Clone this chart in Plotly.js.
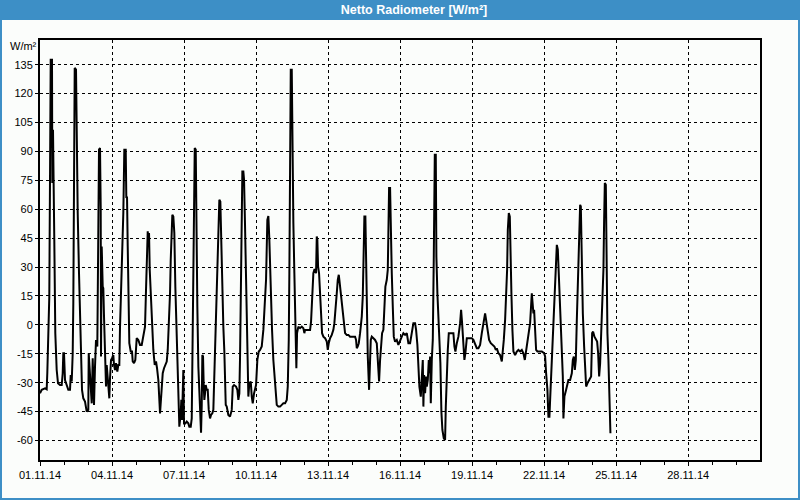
<!DOCTYPE html>
<html><head><meta charset="utf-8">
<script src="https://cdn.plot.ly/plotly-3.0.1.min.js"></script>
<style>html,body{margin:0;padding:0;background:#fbfdfb;}#chart{width:800px;height:500px;}</style>
</head><body><div id="chart"></div>
<script>
const chartTitle = 'Netto Radiometer [W/m²]';
const unitLabel = 'W/m²';
const startDate = '2014-11-01';
const endDate = '2014-11-30 23:50';
const yTickValues = [-60, -45, -30, -15, 0, 15, 30, 45, 60, 75, 90, 105, 120, 135];

// hours since 01.11.14 00:00
const hours = [
0,1.7,5,6.7,7.3,8.3,9.3,10,10.7,12,12.3,13,13.3,14.3,15.3,16.7,18,20,21.7,22.7,23.3,24,25,26.7,28.3,30,30.7,31.7,32.7,33.3,34,34.7,36,36.7,37.7,39,40,41,42,43.3,45,46.7,48.3,48.7,50,51,51.7,52.7,53.3,54,55,56,57.3,58,59,60,60.7,61,61.7,62.7,63.3,64,65,66,66.7,67.3,68.3,69.3,70,71,72,73.3,74,75,76,77.3,78.3,79.3,80,80.7,81.7,82.7,83.3,84.3,85.7,86.3,87,87.7,88.7,89.3,90.7,92,92.7,94,95.3,96.7,98.3,100,101.7,103.3,105,106,107,107.7,108.3,109,109.7,110.7,112,113.3,114.7,116,117,118.3,120,121,122,122.7,124,125,126.7,127.7,128.7,130,130.7,131.7,132.3,133.3,134.3,135.3,136.7,137.7,138.7,139.3,140.7,141.3,142,142.7,143.3,144,145.3,146.7,148.3,149.3,150.7,151.7,152.3,153.3,154,154.7,155.7,156.3,157.3,158.3,159.3,160.3,161,161.7,162.3,163,163.7,164.3,165,165.7,166.7,167.7,168.7,170,171,172.3,173.3,174.3,175.3,176.7,177.7,178.3,179.3,180.3,181,182,183.3,184.3,185.7,186.7,188.3,190,
191.7,192.7,194,196,197.3,198.3,199.3,200,200.7,201.3,202.3,203.3,204,205,206,207,207.7,208.3,209.3,210.7,211.7,212.7,214,215,216,217.3,218.7,220,221.7,223.3,224.3,226,227.3,228.3,229.3,230.7,232,233.3,235,236.7,238.3,240,241.7,243.3,245,246.7,247.7,248.7,249.3,250,250.7,251.7,252.3,253.3,254.3,255.3,256.3,257,258.3,260,261.7,263.3,264.3,265,266.7,268.3,270,271,272.3,273.3,274.3,275,276,276.7,277.3,278,279,280,281,282,283.3,285,286.7,287.7,288.7,290,291.7,293.3,294.3,295.3,296.7,297.7,298.7,299.3,300.7,302,303.3,305,306.7,308.3,310,313.3,315,316,316.7,317.7,318.7,320,321.7,322.7,323.3,324.3,325.3,326,326.7,327.7,329,330,330.7,331.7,333.3,335,336.7,337.7,339,340,341,342,343.3,344.3,345.3,346.7,347.7,348.3,349,350,350.7,351.7,352.7,353.7,355,356.7,358.3,
360,361.7,363.3,365,366.7,368.3,370,371.7,373.3,375,376,377.3,378.3,379.3,380.7,381.7,382.7,383.3,384,385,386,386.7,387.7,388.7,389.3,390,390.7,391.7,392.7,393.7,394.7,395.7,396.3,397.3,398.3,399.3,400.3,401.3,402.3,403.7,405,405.7,406.7,407.7,408.7,410,411.7,413.3,414.3,415.3,416.7,418.3,420,421,422,423.3,424.3,425.3,426.7,428.3,430,431.7,433.3,435,436.7,438.3,440,441.7,443.3,445,446,447.3,449,450.7,452.7,454.3,455.7,456.7,458.3,460,461.7,462.7,463.7,465,466,467,467.7,468.7,469.7,470.3,471.3,472.3,473.3,475,476.7,478.3,480,481.7,483.3,484.7,486,487.3,488.7,
490,491.7,493.3,494,495,496,497.3,501.7,504,505,506,507.3,508.3,509.3,510,511,512,513.3,514.7,515.7,516.7,517.7,518.7,520,521.3,522.7,523.3,524.3,526,527.3,528.3,530,531.7,532.7,533.7,534.7,535.7,536.7,537.7,538.7,539.3,540,540.7,541.7,542.7,544,545,546,547.3,549.3,551,552,553,554.3,555.7,557,558,559,560,561,562,562.7,563.3,564,564.7,565.7,566.3,567.3,568.3,569,569.7,570.3
];
const values = [
-35.5,-33.7,-32.9,-33.4,-25.1,-4.3,14.7,75.3,137.6,137.6,73.6,101.2,71.8,44.1,-4.3,-23.4,-30.3,-31.2,-31.2,-25.1,-14.7,-14.7,-28.6,-32,-33.7,-33.7,-26,-29.4,-14.7,11.2,71.8,133.3,132.4,85.7,58,26.8,4.3,-16.4,-33.7,-38.1,-39.8,-45,-44.1,-14.7,-25.1,-32,-40.7,-17.3,-25.1,-41.5,-21.6,-7.8,-11.2,37.2,90.9,91.7,61.4,-16.4,40.7,19.9,19,4.3,-19.9,-32,-20.8,-25.1,-32,-38.1,-27.7,-18.2,-17.3,-15.6,-20.8,-23.4,-19.9,-24.2,-20.8,-20.8,-0.9,13,33.7,40.7,58,90.9,90.9,65.8,66.6,40.7,16.4,-9.5,-13.8,-13.8,-19,-19.9,-18.2,-6.9,-7.8,-10.4,-10.4,-6.1,-0.9,18.2,40.7,48.5,44.1,47.6,28.6,14.7,-3.5,-13,-20.8,-19,-22.5,-28.6,-45.9,-38.9,-33.7,-25.1,-22.5,-20.8,-19,-13,-2.6,16.4,33.7,54.5,57.1,56.2,47.6,19.9,-4.3,-21.6,-51.1,-52.8,-45.9,-38.9,-49.3,-25.1,-23.4,-51.1,-51.1,-50.2,-51.1,-52.8,-52.8,-48.5,-25.1,9.5,44.1,91.7,90.9,52.8,9.5,-21.6,-35.5,-51.9,-56,-41.5,-15.6,-16.4,-32,-38.9,-35.5,-31.2,-33.7,-33.7,-44.1,-48.5,-46.7,-45.9,-44.1,-23.4,-7.8,16.4,40.7,56.2,64.9,64,44.1,26.8,-0.9,-13.8,-41.5,-42.4,-46.7,-47.6,
-44.1,-32,-31.2,-32,-33.7,-38.9,-35.5,-16.4,23,52.8,79.6,79.6,75.3,51,18.2,-4.3,-16.4,-37.2,-30.3,-29.4,-37.2,-40.7,-35.5,-33.7,-31.2,-18.2,-13.8,-13,-11.2,-2.6,9.5,23.4,54.5,56.5,44.1,13,-2.6,-18.2,-32,-41.5,-42.4,-42.4,-41.5,-40.7,-40.7,-38.9,-32,-7.8,26.8,77,132.4,132.4,82.2,52.8,26.8,-4.3,-22.5,-4.3,-0.9,-1.7,-0.9,-1.7,-4.3,-2.6,-2.6,-2.6,-2.6,1.7,13,26.8,28.6,28.6,26.8,45.9,44.1,30.3,26.8,16.4,6,-4.3,-6.1,-6.9,-8.7,-13,-9.5,-6.9,-5.2,-2.6,0.9,6,16.4,23.4,26,23.4,16.4,9.5,2.6,-4.3,-5.2,-5.2,-6.1,-6.1,-6.1,-7.8,-12.1,-11.2,-9.5,-4.3,4.3,14.7,35.5,56.2,56.2,35.5,9.5,-16.4,-33.7,-11.2,-7.8,-6.1,-6.9,-7.8,-9.5,-18.2,-29.4,-18.2,-7.8,-4.3,-2.6,6,19.9,23.4,28.6,47.6,71,71,44.1,26.8,9.5,-6.1,-8.7,-7.8,-10.4,
-7.8,-6.1,-4.3,-5.2,-4.3,-9.5,-9.5,-4.3,0.9,0.9,-2.6,-10.4,-25.1,-32,-37.2,-28.6,-18.2,-42.4,-26,-35.5,-26.8,-32,-28.6,-18.2,-25.1,-16.4,-40.7,-18.2,-7.8,35.5,88.3,88.3,35.5,16.4,4.3,-11.2,-19.9,-45,-54.5,-58.8,-59.7,-42.4,-25.1,-13,-4.3,-4.3,-4.3,-4.3,-11.2,-13.8,-9.5,-6.1,0.9,7.8,0.9,-11.2,-18.2,-14.7,-6.9,-6.9,-6.9,-6.9,-7.8,-10.4,-12.1,-12.1,-10.4,-4.3,0.9,6,2.6,-2.6,-7.8,-9.5,-10.4,-11.2,-13,-12.1,-14.7,-15.6,-19,-14.7,-7.8,2.6,16.4,28.6,49.3,58,56.2,33.7,16.4,-2.6,-13.8,-15.6,-13.8,-13,-13.8,-13,-14.7,-18.2,-13.8,-9.5,-4.3,
0.9,16.4,6,7.8,-4.3,-13,-13.8,-13.8,-14.7,-16.4,-25.1,-33.7,-47.6,-47.6,-38.9,-26.8,-18.2,2.6,19.9,32,41.5,39,26.8,4.3,-11.2,-26.8,-48.5,-37.2,-33.7,-30.3,-28.6,-28.6,-25.1,-18.2,-16.4,-23.4,-18.2,2.6,19.9,26.8,45.9,62.3,61.4,26.8,6,-11.2,-23.4,-32,-30.3,-28.6,-26.8,-4.3,-3.5,-6.1,-7.8,-8.7,-14.7,-26.8,-20,-7.8,7.8,16.4,28.6,54.5,73.6,72.7,28.6,-4.3,-18.2,-35.5,-52.8,-56.2
];

function pad(n){return (n<10?'0':'')+n;}
const baseMs = Date.parse(startDate + 'T00:00:00Z');
const xDates = hours.map(function(h){
  const d = new Date(baseMs + Math.round(h*3600000));
  return d.getUTCFullYear()+'-'+pad(d.getUTCMonth()+1)+'-'+pad(d.getUTCDate())+' '+pad(d.getUTCHours())+':'+pad(d.getUTCMinutes())+':'+pad(d.getUTCSeconds());
});

const W=800,H=500,L=40,R=40,T=40,B=40,PW=W-L-R,PH=H-T-B;
function px2x(X){return (X-L)/PW;}
function px2y(Y){return (H-B-Y)/PH;}
const blue='#3d8fc6', bg='#fbfdfb';
const fontFam='"Liberation Sans", Arial, sans-serif';
const DAY=86400000;

const trace = {x:xDates, y:values, type:'scatter', mode:'lines',
  line:{color:'#000', width:2, shape:'linear'}, hoverinfo:'skip'};

const layout = {
  width:W, height:H,
  margin:{l:L,r:R,t:T,b:B,pad:0},
  paper_bgcolor:bg, plot_bgcolor:bg,
  font:{family:fontFam, size:11, color:'#000'},
  showlegend:false,
  title:{text:chartTitle, xref:'container', yref:'container', x:414/W, xanchor:'center', y:1-10/H, yanchor:'middle',
    font:{family:fontFam, size:12.5, color:'#ffffff', weight:'bold'}},
  xaxis:{type:'date', range:[startDate, endDate], tick0:startDate, dtick:3*DAY, tickformat:'%d.%m.%y',
    showgrid:true, gridcolor:'#000', gridwidth:1, griddash:'3px,3px',
    showline:true, linecolor:'#000', linewidth:2, mirror:true, zeroline:false,
    ticks:'outside', ticklen:4, tickwidth:1, tickcolor:'#000',
    minor:{dtick:DAY, tick0:startDate, ticks:'outside', ticklen:3, tickwidth:1, tickcolor:'#000', showgrid:false},
    tickfont:{family:fontFam, size:11, color:'#000'}, fixedrange:true},
  yaxis:{range:[-70.1,147.8], tickvals:yTickValues, ticktext:yTickValues.map(String),
    showgrid:true, gridcolor:'#000', gridwidth:1, griddash:'3px,3px',
    showline:true, linecolor:'#000', linewidth:2, mirror:true, zeroline:false,
    ticks:'outside', ticklen:3, tickwidth:1, tickcolor:'#000',
    tickfont:{family:fontFam, size:11, color:'#000'}, fixedrange:true},
  shapes:[
    {type:'rect', xref:'paper', yref:'paper', x0:px2x(0), x1:px2x(W), y0:px2y(20), y1:px2y(0),
     fillcolor:blue, line:{width:0}, layer:'below'},
    {type:'rect', xref:'paper', yref:'paper', x0:px2x(1), x1:px2x(W-1), y0:px2y(H-1), y1:px2y(1),
     fillcolor:'rgba(0,0,0,0)', line:{color:blue, width:2}, layer:'below'}
  ],
  annotations:[
    {text:unitLabel, xref:'paper', yref:'paper', x:px2x(23), y:px2y(46), xanchor:'center', yanchor:'middle',
     showarrow:false, font:{family:fontFam, size:11, color:'#000'}}
  ]
};
Plotly.newPlot('chart', [trace], layout, {displayModeBar:false, staticPlot:true});
</script>
</body></html>
